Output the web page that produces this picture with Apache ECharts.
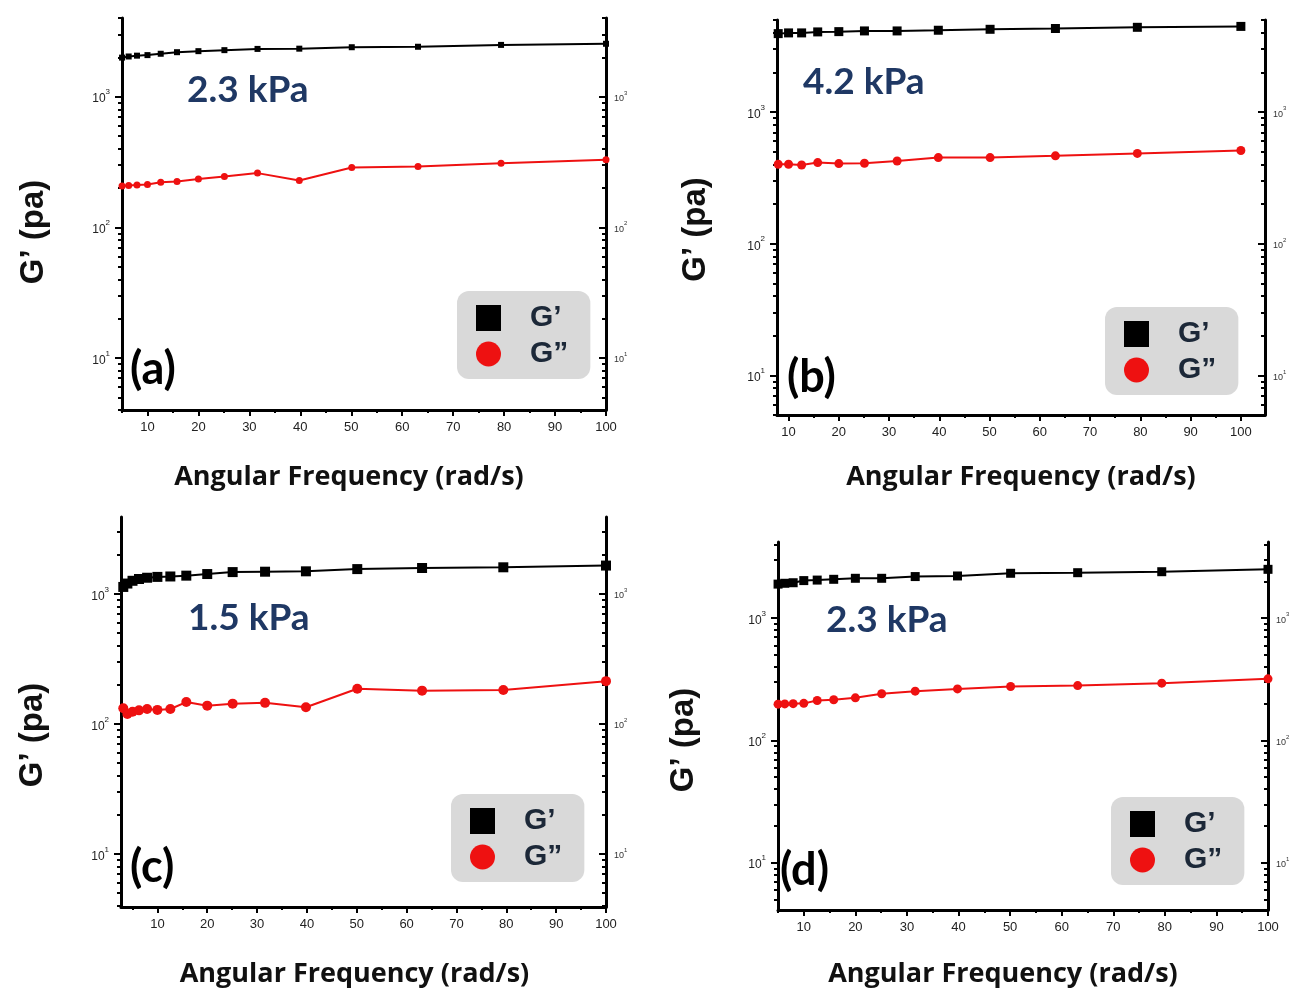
<!DOCTYPE html>
<html>
<head>
<meta charset="utf-8">
<title>G' / G'' frequency sweep</title>
<script src="https://cdn.jsdelivr.net/npm/echarts@6/dist/echarts.min.js"></script>
<style>
  html, body { margin: 0; padding: 0; background: #fff; }
  #main { width: 1302px; height: 991px; }
</style>
</head>
<body>
<div id="main"></div>
<script>
// 角频率 (rad/s) 和 G' / G'' (Pa)，从图上读出来的
var freqA = [5.01, 6.31, 7.94, 10, 12.6, 15.8, 20, 25.1, 31.6, 39.8, 50.1, 63.1, 79.4, 100];
var gpA = [1990, 2030, 2060, 2080, 2130, 2190, 2230, 2270, 2320, 2330, 2390, 2410, 2490, 2540];
var gppA = [207, 209, 211, 213, 221, 224, 234, 245, 260, 228, 287, 292, 310, 329];

var freqB = [7.94, 10, 12.6, 15.8, 20, 25.1, 31.6, 39.8, 50.1, 63.1, 79.4, 100];
var gpB = [3940, 3990, 3990, 4060, 4080, 4130, 4130, 4180, 4250, 4310, 4400, 4470];
var gppB = [401, 401, 396, 413, 406, 408, 425, 451, 451, 465, 485, 510];

var freqC = [3.16, 3.98, 5.01, 6.31, 7.94, 10, 12.6, 15.8, 20, 25.1, 31.6, 39.8, 50.1, 63.1, 79.4, 100];
var gpC = [1130, 1200, 1260, 1300, 1330, 1350, 1360, 1380, 1420, 1470, 1480, 1490, 1550, 1580, 1600, 1650];
var gppC = [132, 119, 124, 127, 130, 128, 130, 147, 138, 143, 145, 134, 186, 180, 182, 213];

var freqD = [5.01, 6.31, 7.94, 10, 12.6, 15.8, 20, 25.1, 31.6, 39.8, 50.1, 63.1, 79.4, 100];
var gpD = [1900, 1930, 1950, 2030, 2050, 2080, 2120, 2120, 2190, 2215, 2330, 2356, 2400, 2510];
var gppD = [198, 199, 200, 201, 212, 215, 223, 241, 253, 264, 276, 281, 294, 319];

// 刻度
var xTicks = [10, 20, 30, 40, 50, 60, 70, 80, 90, 100];
var xMinorTicks = [5, 15, 25, 35, 45, 55, 65, 75, 85, 95];
var yTicks = [10, 100, 1000];
var yMinorTicks = [4, 5, 6, 7, 8, 9, 20, 30, 40, 50, 60, 70, 80, 90,
  200, 300, 400, 500, 600, 700, 800, 900, 2000, 3000, 4000, 5000];

var modulusLabels = ['2.3 kPa', '4.2 kPa', '1.5 kPa', '2.3 kPa'];
var panelLetters = ['(a)', '(b)', '(c)', '(d)'];
var legendNames = ['G\u2019', 'G\u201D'];

var panels = [
  { freq: freqA, gp: gpA, gpp: gppA, xMin: 5, xMax: 100, yMin: 4, yMax: 4000,
    grid: { left: 122, top: 18, width: 484, height: 392 }, yNameGap: 72, xNameGap: 54,
    yNameShift: 36, xNameShift: 30,
    legend: [457, 291], label: [187, 72], letter: [130, 347], sq: 6, dot: 7 },
  { freq: freqB, gp: gpB, gpp: gppB, xMin: 7.7, xMax: 104.8, yMin: 5, yMax: 5000,
    grid: { left: 777, top: 20, width: 488, height: 395 }, yNameGap: 65, xNameGap: 49,
    yNameShift: 24, xNameShift: 0,
    legend: [1105, 307], label: [803, 64], letter: [787, 355], sq: 9, dot: 9 },
  { freq: freqC, gp: gpC, gpp: gppC, xMin: 2.7, xMax: 100, yMin: 3.9, yMax: 3900,
    grid: { left: 121, top: 517, width: 485, height: 390 }, yNameGap: 72, xNameGap: 54,
    yNameShift: 46, xNameShift: 18,
    legend: [451, 794], label: [188, 600], letter: [130, 845], sq: 10, dot: 10 },
  { freq: freqD, gp: gpD, gpp: gppD, xMin: 5, xMax: 100, yMin: 4.1, yMax: 4200,
    grid: { left: 778, top: 542, width: 490, height: 368 }, yNameGap: 78, xNameGap: 51,
    yNameShift: 28, xNameShift: 40,
    legend: [1111, 797], label: [826, 602], letter: [780, 848], sq: 9, dot: 9 }
];

function pairs(xs, ys) {
  return xs.map(function (x, i) { return [x, ys[i]]; });
}

function log10List(list) {
  return list.map(function (v) { return Math.log10(v); });
}

var lineStyle = { color: '#000', width: 3 };
var tickStyle = { color: '#000', width: 2 };

var option = {
  backgroundColor: '#fff',
  animation: false,
  grid: [], xAxis: [], yAxis: [], series: [], legend: [], graphic: []
};

panels.forEach(function (p, i) {
  option.grid.push(p.grid);

  // 横轴: 主刻度 + 次刻度
  var xi = option.xAxis.length;
  option.xAxis.push({
    gridIndex: i, type: 'value', min: p.xMin, max: p.xMax, position: 'bottom',
    name: 'Angular Frequency (rad/s)', nameLocation: 'middle', nameGap: p.xNameGap,
    nameTextStyle: { fontFamily: 'Open Sans', fontWeight: 'bold', fontSize: 27, color: '#111',
      padding: [0, p.xNameShift, 0, 0] },
    axisLine: { show: true, onZero: false, lineStyle: lineStyle },
    axisTick: { show: true, customValues: xTicks, length: 6, lineStyle: tickStyle },
    axisLabel: { customValues: xTicks, margin: 11, fontFamily: 'Liberation Sans', fontSize: 13, color: '#222' },
    splitLine: { show: false }
  });
  option.xAxis.push({
    gridIndex: i, type: 'value', min: p.xMin, max: p.xMax, position: 'bottom',
    axisLine: { show: false, onZero: false },
    axisTick: { show: true, customValues: xMinorTicks, length: 3, lineStyle: tickStyle },
    axisLabel: { show: false }, splitLine: { show: false }
  });

  // 纵轴: 隐藏的对数轴给数据用，另外几条轴画刻度
  var yi = option.yAxis.length;
  option.yAxis.push({ gridIndex: i, type: 'log', logBase: 10, min: p.yMin, max: p.yMax, show: false });

  var lmin = Math.log10(p.yMin), lmax = Math.log10(p.yMax);
  var fmt = function (v) { return '{b|10}{s|' + Math.round(v) + '}'; };

  option.yAxis.push({
    gridIndex: i, type: 'value', min: lmin, max: lmax, position: 'left',
    name: 'G\u2019 (pa)', nameLocation: 'middle', nameGap: p.yNameGap,
    nameTextStyle: { fontFamily: 'Liberation Sans', fontWeight: 'bold', fontSize: 33, color: '#111',
      padding: [0, p.yNameShift, 0, 0] },
    axisLine: { show: true, onZero: false, lineStyle: lineStyle },
    axisTick: { show: true, customValues: log10List(yTicks), length: 7, lineStyle: tickStyle },
    axisLabel: {
      customValues: log10List(yTicks), margin: 12, formatter: fmt,
      rich: {
        b: { fontFamily: 'Liberation Sans', fontSize: 12, color: '#222', lineHeight: 17, verticalAlign: 'bottom' },
        s: { fontFamily: 'Liberation Sans', fontSize: 8, color: '#222', lineHeight: 17, verticalAlign: 'top' }
      }
    },
    splitLine: { show: false }
  });
  option.yAxis.push({
    gridIndex: i, type: 'value', min: lmin, max: lmax, position: 'left',
    axisLine: { show: false, onZero: false },
    axisTick: { show: true, customValues: log10List(yMinorTicks), length: 4, lineStyle: tickStyle },
    axisLabel: { show: false }, splitLine: { show: false }
  });
  option.yAxis.push({
    gridIndex: i, type: 'value', min: lmin, max: lmax, position: 'right',
    axisLine: { show: true, onZero: false, lineStyle: lineStyle },
    axisTick: { show: true, inside: true, customValues: log10List(yTicks), length: 7, lineStyle: tickStyle },
    axisLabel: {
      customValues: log10List(yTicks), margin: 8, formatter: fmt,
      rich: {
        b: { fontFamily: 'Liberation Sans', fontSize: 9, color: '#333', lineHeight: 13, verticalAlign: 'bottom' },
        s: { fontFamily: 'Liberation Sans', fontSize: 6, color: '#333', lineHeight: 13, verticalAlign: 'top' }
      }
    },
    splitLine: { show: false }
  });
  option.yAxis.push({
    gridIndex: i, type: 'value', min: lmin, max: lmax, position: 'right',
    axisLine: { show: false, onZero: false },
    axisTick: { show: true, inside: true, customValues: log10List(yMinorTicks), length: 4, lineStyle: tickStyle },
    axisLabel: { show: false }, splitLine: { show: false }
  });

  option.series.push({
    name: legendNames[0], type: 'line', xAxisIndex: xi, yAxisIndex: yi,
    data: pairs(p.freq, p.gp), symbol: 'rect', symbolSize: p.sq,
    itemStyle: { color: '#000' }, lineStyle: { color: '#000', width: 2 }
  });
  option.series.push({
    name: legendNames[1], type: 'line', xAxisIndex: xi, yAxisIndex: yi,
    data: pairs(p.freq, p.gpp), symbol: 'circle', symbolSize: p.dot,
    itemStyle: { color: '#ee1111' }, lineStyle: { color: '#ee1111', width: 2 }
  });

  option.legend.push({
    left: p.legend[0], top: p.legend[1], orient: 'vertical', selectedMode: false,
    backgroundColor: '#d9d9d9', borderRadius: 12, padding: [12, 22, 10, 19],
    itemGap: 6, itemWidth: 25, itemHeight: 26,
    textStyle: { fontFamily: 'Liberation Sans', fontWeight: 'bold', fontSize: 30, color: '#1c2838',
      padding: [0, 0, 0, 24] },
    data: [{ name: legendNames[0], icon: 'rect' }, { name: legendNames[1], icon: 'circle' }]
  });

  option.graphic.push({
    type: 'text', left: p.label[0], top: p.label[1],
    style: { text: modulusLabels[i], font: 'bold 37px Lato', fill: '#1f3864' }
  });
  option.graphic.push({
    type: 'text', left: p.letter[0], top: p.letter[1],
    style: { text: panelLetters[i], font: 'bold 45px Lato', fill: '#000' }
  });
});

var myChart = echarts.init(document.getElementById('main'));
myChart.setOption(option);
</script>
</body>
</html>
